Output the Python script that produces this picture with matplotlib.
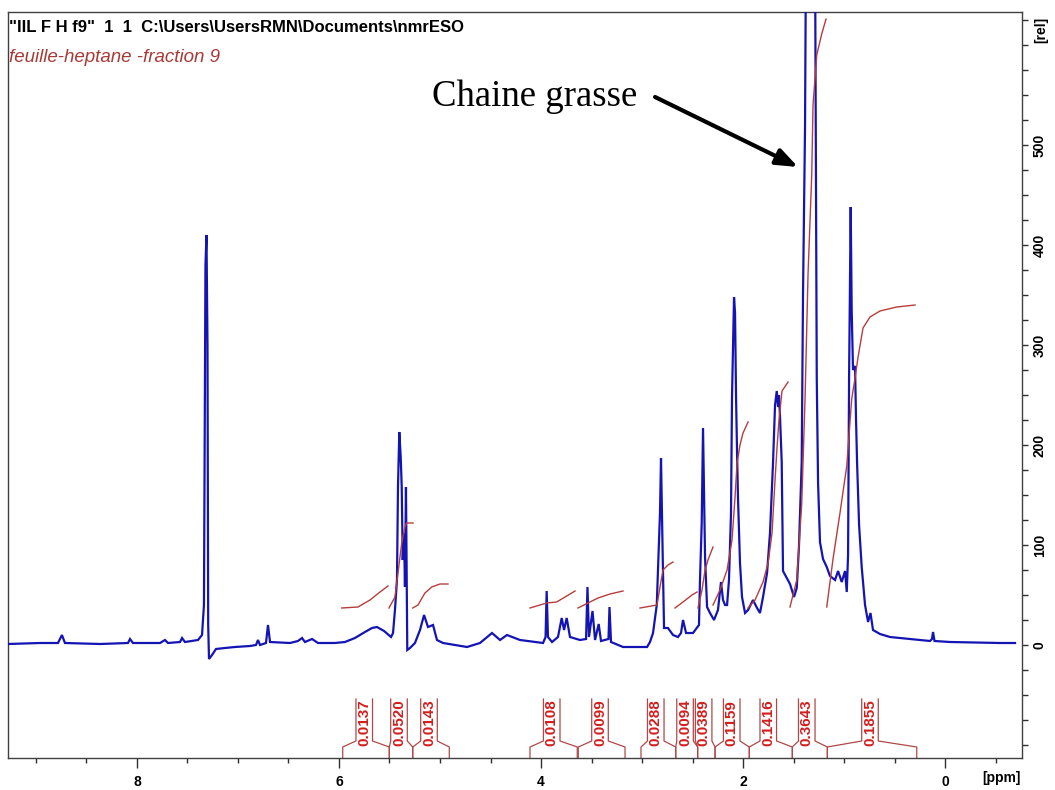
import matplotlib
matplotlib.use("Agg")
import matplotlib.pyplot as plt
from matplotlib.ticker import MultipleLocator, FixedLocator

# ---------------- data ----------------
spec_ppm = [9.277, 8.960, 8.782, 8.743, 8.713, 8.366, 8.089, 8.069, 8.040, 7.772,
            7.723, 7.693, 7.574, 7.554, 7.525, 7.396, 7.356, 7.337, 7.322, 7.312,
            7.302, 7.295, 7.287, 7.257, 7.218, 7.129, 7.030, 6.881, 6.822, 6.802,
            6.782, 6.723, 6.703, 6.683, 6.485, 6.406, 6.366, 6.337, 6.267, 6.208,
            6.040, 5.941, 5.842, 5.743, 5.673, 5.624, 5.554, 5.485, 5.465, 5.446,
            5.426, 5.416, 5.403, 5.389, 5.379, 5.369, 5.356, 5.347, 5.337, 5.324,
            5.297, 5.248, 5.198, 5.158, 5.119, 5.069, 5.030, 4.970, 4.851, 4.733,
            4.604, 4.485, 4.406, 4.337, 4.208, 3.980, 3.955, 3.944, 3.931, 3.891,
            3.832, 3.795, 3.772, 3.746, 3.713, 3.614, 3.554, 3.540, 3.525, 3.490,
            3.465, 3.429, 3.406, 3.332, 3.322, 3.307, 3.188, 3.089, 2.950, 2.921,
            2.891, 2.854, 2.832, 2.822, 2.812, 2.802, 2.795, 2.782, 2.743, 2.693,
            2.644, 2.614, 2.594, 2.564, 2.495, 2.436, 2.426, 2.409, 2.396, 2.386,
            2.376, 2.356, 2.327, 2.287, 2.248, 2.218, 2.198, 2.178, 2.158, 2.139,
            2.119, 2.109, 2.089, 2.079, 2.069, 2.059, 2.050, 2.030, 2.010, 1.980,
            1.950, 1.901, 1.861, 1.832, 1.802, 1.762, 1.733, 1.703, 1.683, 1.666,
            1.653, 1.644, 1.634, 1.617, 1.604, 1.567, 1.535, 1.495, 1.468, 1.446,
            1.419, 1.406, 1.386, 1.366, 1.347, 1.327, 1.307, 1.287, 1.270, 1.257,
            1.238, 1.208, 1.171, 1.139, 1.089, 1.059, 1.023, 0.990, 0.973, 0.960,
            0.950, 0.934, 0.924, 0.911, 0.891, 0.881, 0.871, 0.851, 0.825, 0.792,
            0.762, 0.738, 0.713, 0.644, 0.545, 0.347, 0.149, 0.129, 0.119, 0.104,
            -0.050, -0.545, -0.693]
spec_int = [1, 2, 2, 10, 2, 1, 2, 6, 2, 2,
            5, 2, 3, 7, 3, 5, 10, 40, 380, 410,
            300, 20, -14, -10, -4, -3, -2, -1, 0, 5,
            0, 2, 20, 3, 2, 4, 7, 3, 6, 2,
            2, 3, 7, 13, 17, 18, 14, 8, 12, 35,
            65, 158, 213, 188, 158, 85, 112, 58, 158, -5,
            -3, 2, 15, 30, 18, 20, 5, 2, 0, -2,
            2, 12, 5, 10, 5, 2, 8, 54, 8, 3,
            8, 27, 15, 27, 8, 5, 6, 58, 8, 34,
            5, 21, 4, 6, 38, 3, -2, -2, -2, 3,
            12, 40, 105, 132, 187, 125, 88, 17, 17, 10,
            8, 12, 25, 12, 12, 20, 65, 122, 217, 152,
            88, 38, 32, 25, 35, 63, 45, 40, 40, 65,
            132, 248, 348, 332, 248, 192, 148, 82, 48, 32,
            35, 45, 37, 32, 48, 72, 112, 182, 240, 254,
            238, 250, 229, 183, 74, 67, 61, 48, 57, 99,
            183, 351, 519, 900, 1300, 1100, 1300, 700, 267, 162,
            103, 86, 78, 69, 65, 74, 63, 74, 53, 90,
            267, 438, 334, 275, 279, 225, 183, 120, 78, 40,
            23, 32, 15, 11, 8, 6, 4, 6, 13, 4,
            3, 2, 2]

# integral curves (ppm, height)
integ_ppm = [
    [5.973, 5.812, 5.693, 5.594, 5.515],
    [5.505, 5.446, 5.416, 5.379, 5.347, 5.330, 5.267],
    [5.270, 5.218, 5.149, 5.082, 5.000, 4.921],
    [4.109, 3.944, 3.845, 3.762, 3.663],
    [3.634, 3.535, 3.436, 3.317, 3.188],
    [3.020, 2.851, 2.822, 2.792, 2.743, 2.693],
    [2.673, 2.594, 2.505, 2.455],
    [2.446, 2.406, 2.376, 2.347, 2.297],
    [2.297, 2.228, 2.158, 2.109, 2.079, 2.059, 2.030, 2.000, 1.950],
    [1.950, 1.881, 1.802, 1.752, 1.713, 1.683, 1.663, 1.644, 1.614, 1.554],
    [1.535, 1.468, 1.419, 1.386, 1.356, 1.320, 1.307, 1.270, 1.221, 1.178],
    [1.171, 1.109, 1.040, 0.973, 0.924, 0.891, 0.861, 0.812, 0.743, 0.644, 0.478, 0.297],
]
integ_val = [
    [37, 38, 45, 53, 59],
    [37, 48, 72, 102, 118, 122, 122],
    [37, 40, 52, 58, 61, 61],
    [37, 42, 43, 48, 54],
    [37, 42, 47, 51, 54],
    [37, 40, 58, 75, 80, 83],
    [37, 43, 50, 53],
    [37, 55, 75, 85, 98],
    [40, 55, 75, 105, 148, 182, 200, 212, 223],
    [37, 45, 63, 82, 112, 165, 198, 225, 254, 263],
    [38, 65, 141, 246, 372, 469, 540, 590, 611, 626],
    [38, 86, 132, 179, 246, 267, 288, 317, 328, 334, 338, 340],
]

# integral brackets: left foot, label centre, right foot (ppm) and value
br_left = [5.963, 5.502, 5.270, 4.109, 3.631, 3.010, 2.666, 2.449, 2.277, 1.938, 1.512, 1.165]
br_center = [5.750, 5.406, 5.109, 3.894, 3.416, 2.864, 2.574, 2.390, 2.112, 1.750, 1.369, 0.743]
br_right = [5.502, 5.270, 4.908, 3.641, 3.168, 2.666, 2.449, 2.277, 1.938, 1.512, 1.165, 0.280]
br_text = ["0.0137", "0.0520", "0.0143", "0.0108", "0.0099", "0.0288",
           "0.0094", "0.0389", "0.1159", "0.1416", "0.3643", "0.1855"]

x_major = [8, 6, 4, 2, 0]
y_major = [0, 100, 200, 300, 400, 500]

# ---------------- figure ----------------
W, H = 1055, 790
fig = plt.figure(figsize=(W / 100, H / 100), dpi=100)
ax = fig.add_axes([8 / W, 1 - 758 / H, 1014 / W, 746 / H])
ax.set_xlim(9.277, -0.762)
ax.set_ylim(-113, 633)

sans = ["Liberation Sans", "DejaVu Sans"]
spec_col = "#1414b4"
int_col = "#b83c3c"
lab_col = "#d21e1e"

ax.plot(spec_ppm, spec_int, color=spec_col, lw=1.6, solid_joinstyle="miter", zorder=3)
for xs, ys in zip(integ_ppm, integ_val):
    ax.plot(xs, ys, color=int_col, lw=1.0, zorder=4)

hw = 0.082
y_ax, y_foot, y_diag, y_top = -113, -102, -96, -54
for L, C, R, t in zip(br_left, br_center, br_right, br_text):
    ax.plot([L, L, C + hw, C + hw], [y_ax, y_foot, y_diag, y_top], color="#b04848", lw=0.9, clip_on=False)
    ax.plot([C - hw, C - hw, R, R], [y_top, y_diag, y_foot, y_ax], color="#b04848", lw=0.9, clip_on=False)
    ax.text(C, -78, t, rotation=90, ha="center", va="center", fontsize=11,
            fontweight="bold", color=lab_col, family=sans)

# axes styling
for s in ax.spines.values():
    s.set_color("#404040")
    s.set_linewidth(1.0)
ax.xaxis.set_major_locator(FixedLocator(x_major))
ax.xaxis.set_minor_locator(MultipleLocator(0.5))
ax.yaxis.set_major_locator(FixedLocator(y_major))
ax.yaxis.set_minor_locator(MultipleLocator(25))
ax.yaxis.tick_right()
ax.tick_params(axis="x", which="major", direction="out", length=7.2, width=1.0, pad=5, color="#303030")
ax.tick_params(axis="x", which="minor", direction="out", length=3.6, width=1.0, color="#303030")
ax.tick_params(axis="y", which="both", direction="out", length=4.3, width=1.0, pad=3.5, color="#303030")
ax.set_xticklabels([str(v) for v in x_major], fontsize=10, fontweight="bold", family=sans)
ax.set_yticklabels([str(v) for v in y_major], fontsize=10, fontweight="bold", family=sans,
                   rotation=90, va="center")

fig.text(1001 / W, 1 - 778 / H, "[ppm]", ha="center", va="center", fontsize=10,
         fontweight="bold", family=sans)
fig.text(1041 / W, 1 - 30 / H, "[rel]", ha="center", va="center", fontsize=10,
         fontweight="bold", family=sans, rotation=90)

fig.text(9 / W, 1 - 27 / H, '"IIL F H f9"  1  1  C:\\Users\\UsersRMN\\Documents\\nmrESO',
         ha="left", va="center", fontsize=12, fontweight="bold", family=sans)
fig.text(9 / W, 1 - 57 / H, "feuille-heptane -fraction 9", ha="left", va="center",
         fontsize=13.5, style="italic", color="#a83a36", family=sans)

ax.text(5.079, 539, "Chaine grasse", ha="left", va="baseline", fontsize=26.5,
        family=["Liberation Serif", "DejaVu Serif"], color="black", zorder=6)
ax.annotate("", xy=(1.455, 478), xytext=(2.871, 548),
            arrowprops=dict(arrowstyle="-|>,head_length=1.3,head_width=0.5",
                            color="black", lw=3, shrinkA=0, shrinkB=0), zorder=6)

fig.savefig("out.png", dpi=100)
